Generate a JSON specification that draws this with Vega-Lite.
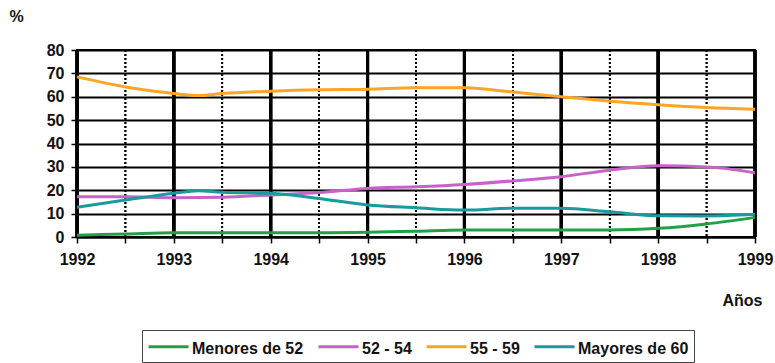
{
  "$schema": "https://vega.github.io/schema/vega-lite/v6.json",
  "width": 678,
  "height": 187,
  "autosize": "none",
  "padding": {"left": 77, "top": 50, "right": 20, "bottom": 126},
  "background": "white",
  "config": {
    "font": "Liberation Sans",
    "view": {"stroke": "black", "strokeWidth": 2}
  },
  "data": {
    "values": [
      {"year": 1992, "serie": "Menores de 52", "valor": 0.8},
      {"year": 1992.5, "serie": "Menores de 52", "valor": 1.3},
      {"year": 1993, "serie": "Menores de 52", "valor": 1.8},
      {"year": 1993.5, "serie": "Menores de 52", "valor": 1.8},
      {"year": 1994, "serie": "Menores de 52", "valor": 1.8},
      {"year": 1994.5, "serie": "Menores de 52", "valor": 1.8},
      {"year": 1995, "serie": "Menores de 52", "valor": 2.0},
      {"year": 1995.5, "serie": "Menores de 52", "valor": 2.5},
      {"year": 1996, "serie": "Menores de 52", "valor": 3.0},
      {"year": 1996.5, "serie": "Menores de 52", "valor": 3.0},
      {"year": 1997, "serie": "Menores de 52", "valor": 3.0},
      {"year": 1997.5, "serie": "Menores de 52", "valor": 3.0},
      {"year": 1998, "serie": "Menores de 52", "valor": 3.7},
      {"year": 1998.5, "serie": "Menores de 52", "valor": 5.6},
      {"year": 1999, "serie": "Menores de 52", "valor": 8.4},
      {"year": 1992, "serie": "52 - 54", "valor": 17.2},
      {"year": 1992.5, "serie": "52 - 54", "valor": 17.2},
      {"year": 1993, "serie": "52 - 54", "valor": 16.8},
      {"year": 1993.5, "serie": "52 - 54", "valor": 17.0},
      {"year": 1994, "serie": "52 - 54", "valor": 18.0},
      {"year": 1994.5, "serie": "52 - 54", "valor": 19.0},
      {"year": 1995, "serie": "52 - 54", "valor": 20.8},
      {"year": 1995.5, "serie": "52 - 54", "valor": 21.5},
      {"year": 1996, "serie": "52 - 54", "valor": 22.5},
      {"year": 1996.5, "serie": "52 - 54", "valor": 24.0},
      {"year": 1997, "serie": "52 - 54", "valor": 25.8},
      {"year": 1997.5, "serie": "52 - 54", "valor": 28.6},
      {"year": 1998, "serie": "52 - 54", "valor": 30.5},
      {"year": 1998.5, "serie": "52 - 54", "valor": 30.0},
      {"year": 1999, "serie": "52 - 54", "valor": 27.5},
      {"year": 1992, "serie": "55 - 59", "valor": 68.5},
      {"year": 1992.5, "serie": "55 - 59", "valor": 64.2},
      {"year": 1993, "serie": "55 - 59", "valor": 61.4},
      {"year": 1993.25, "serie": "55 - 59", "valor": 60.5},
      {"year": 1993.5, "serie": "55 - 59", "valor": 61.4},
      {"year": 1994, "serie": "55 - 59", "valor": 62.4},
      {"year": 1994.5, "serie": "55 - 59", "valor": 63.0},
      {"year": 1995, "serie": "55 - 59", "valor": 63.2},
      {"year": 1995.5, "serie": "55 - 59", "valor": 63.8},
      {"year": 1996, "serie": "55 - 59", "valor": 63.8},
      {"year": 1996.5, "serie": "55 - 59", "valor": 62.0},
      {"year": 1997, "serie": "55 - 59", "valor": 60.0},
      {"year": 1997.5, "serie": "55 - 59", "valor": 58.1},
      {"year": 1998, "serie": "55 - 59", "valor": 56.6},
      {"year": 1998.5, "serie": "55 - 59", "valor": 55.4},
      {"year": 1999, "serie": "55 - 59", "valor": 54.7},
      {"year": 1992, "serie": "Mayores de 60", "valor": 12.7},
      {"year": 1992.5, "serie": "Mayores de 60", "valor": 15.8},
      {"year": 1993, "serie": "Mayores de 60", "valor": 18.7},
      {"year": 1993.25, "serie": "Mayores de 60", "valor": 19.8},
      {"year": 1993.5, "serie": "Mayores de 60", "valor": 19.1},
      {"year": 1994, "serie": "Mayores de 60", "valor": 18.7},
      {"year": 1994.5, "serie": "Mayores de 60", "valor": 16.5},
      {"year": 1995, "serie": "Mayores de 60", "valor": 13.7},
      {"year": 1995.5, "serie": "Mayores de 60", "valor": 12.5},
      {"year": 1996, "serie": "Mayores de 60", "valor": 11.5},
      {"year": 1996.5, "serie": "Mayores de 60", "valor": 12.3},
      {"year": 1997, "serie": "Mayores de 60", "valor": 12.3},
      {"year": 1997.5, "serie": "Mayores de 60", "valor": 10.8},
      {"year": 1998, "serie": "Mayores de 60", "valor": 9.1},
      {"year": 1998.5, "serie": "Mayores de 60", "valor": 9.0},
      {"year": 1999, "serie": "Mayores de 60", "valor": 9.7}
    ]
  },
  "layer": [
    {
      "transform": [{"filter": "datum.year % 1 === 0.5"}],
      "mark": {"type": "rule", "color": "black", "strokeWidth": 1.5, "strokeDash": [2, 2]},
      "encoding": {
        "x": {"field": "year", "type": "quantitative"}
      }
    },
    {
      "transform": [{"filter": "datum.year % 1 === 0"}],
      "mark": {"type": "rule", "color": "black", "strokeWidth": 3},
      "encoding": {
        "x": {"field": "year", "type": "quantitative"}
      }
    },
    {
      "mark": {"type": "line", "interpolate": "monotone", "strokeWidth": 3},
      "encoding": {
        "x": {
          "field": "year",
          "type": "quantitative",
          "scale": {"domain": [1992, 1999], "nice": false, "zero": false},
          "axis": {
            "values": [1992, 1992.5, 1993, 1993.5, 1994, 1994.5, 1995, 1995.5, 1996, 1996.5, 1997, 1997.5, 1998, 1998.5, 1999],
            "labelExpr": "datum.value % 1 === 0 ? toString(datum.value) : ''",
            "labelOverlap": false,
            "labelFlush": false,
            "labelFont": "Liberation Sans",
            "labelFontSize": 16,
            "labelFontWeight": "bold",
            "labelColor": "#111",
            "labelPadding": 8,
            "tickSize": 6,
            "tickColor": "black",
            "tickWidth": 1.5,
            "domainColor": "black",
            "domainWidth": 2,
            "grid": false,
            "title": "Años",
            "titleFont": "Liberation Sans",
            "titleFontSize": 16,
            "titleFontWeight": "bold",
            "titleColor": "#111",
            "titleX": 665,
            "titleY": 63,
            "titleAlign": "center",
            "titleBaseline": "middle"
          }
        },
        "y": {
          "field": "valor",
          "type": "quantitative",
          "scale": {"domain": [0, 80], "nice": false},
          "axis": {
            "values": [0, 10, 20, 30, 40, 50, 60, 70, 80],
            "labelFlush": false,
            "labelFont": "Liberation Sans",
            "labelFontSize": 16,
            "labelFontWeight": "bold",
            "labelColor": "#111",
            "labelPadding": 7,
            "tickSize": 6,
            "tickColor": "black",
            "tickWidth": 1.5,
            "domainColor": "black",
            "domainWidth": 2,
            "grid": true,
            "gridColor": "black",
            "gridOpacity": 1,
            "gridWidth": 2,
            "title": "%",
            "titleFont": "Liberation Sans",
            "titleFontSize": 16,
            "titleFontWeight": "bold",
            "titleColor": "#111",
            "titleAngle": 0,
            "titleX": -61,
            "titleY": -34,
            "titleAlign": "center",
            "titleBaseline": "middle"
          }
        },
        "color": {
          "field": "serie",
          "type": "nominal",
          "scale": {
            "domain": ["Menores de 52", "52 - 54", "55 - 59", "Mayores de 60"],
            "range": ["#22a048", "#c862c8", "#ffa526", "#1a9a9e"]
          },
          "legend": {
            "title": null,
            "orient": "none",
            "direction": "horizontal",
            "columns": 4,
            "legendX": 65,
            "legendY": 280,
            "symbolType": "M-1,-0.5H1",
            "symbolSize": 1600,
            "symbolStrokeWidth": 3,
            "labelFont": "Liberation Sans",
            "labelFontSize": 16,
            "labelFontWeight": "bold",
            "labelColor": "#111",
            "labelBaseline": "bottom",
            "labelOffset": 2,
            "columnPadding": 8,
            "padding": 5,
            "strokeColor": "#444",
            "fillColor": "white"
          }
        }
      }
    }
  ]
}
